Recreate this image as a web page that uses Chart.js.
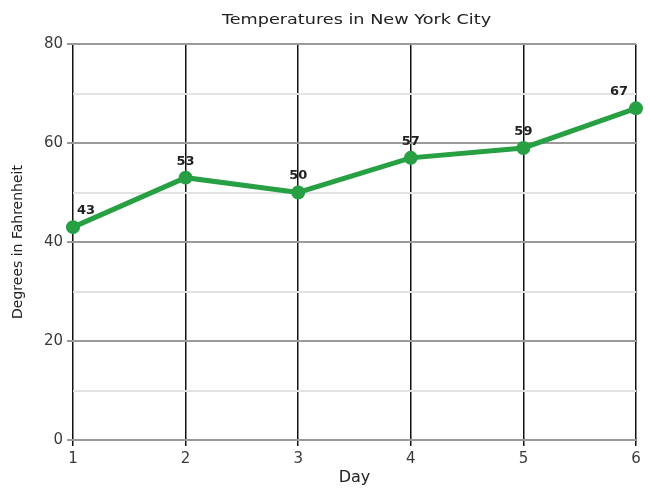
<!DOCTYPE html>
<html>
<head>
<meta charset="utf-8">
<script src="https://cdn.jsdelivr.net/npm/chart.js@4.4.0/dist/chart.umd.min.js"></script>
<style>
  html, body { margin: 0; padding: 0; background: #fff; }
  #wrap { width: 650px; height: 491px; }
</style>
</head>
<body>
<div id="wrap"><canvas id="temp-chart"></canvas></div>
<script>
    // Chart data
    var days = [1, 2, 3, 4, 5, 6];
    var temps = [43, 53, 50, 57, 59, 67];
    var yTicks = [0, 20, 40, 60, 80];

    var points = days.map(function (d, i) { return {x: d, y: temps[i]}; });
    var font = "'DejaVu Sans', 'Liberation Sans', sans-serif";

    // title over the plot area + value labels
    var extras = {
        id: 'extras',
        afterDatasetsDraw: function (chart) {
            var c = chart.ctx, area = chart.chartArea;
            c.save();
            c.fillStyle = '#222';
            c.font = '14px ' + font;
            c.textAlign = 'center';
            c.textBaseline = 'middle';
            // the original title is drawn a bit wide
            var cx = (area.left + area.right) / 2 + 2;
            c.translate(cx, 20);
            c.scale(1.26, 1);
            c.fillText('Temperatures in New York City', 0, 0);
            c.restore();

            c.save();
            c.fillStyle = '#222';
            c.font = 'bold 13px ' + font;
            c.textBaseline = 'bottom';
            chart.getDatasetMeta(0).data.forEach(function (pt, i) {
                var txt = String(temps[i]);
                var x = pt.x;
                if (i === 0) { c.textAlign = 'left'; x = pt.x + 4; }
                else if (i === temps.length - 1) { c.textAlign = 'right'; x = pt.x - 8; }
                else { c.textAlign = 'center'; }
                c.fillText(txt, x, pt.y - 10);
            });
            c.restore();
        }
    };

    var ctx = document.getElementById('temp-chart').getContext('2d');
    var myChart = new Chart(ctx, {
        type: 'line',
        data: {
            datasets: [{
                data: points,
                borderColor: '#27a043',
                backgroundColor: '#27a043',
                borderWidth: 5,
                pointRadius: 7,
                pointHoverRadius: 7,
                pointBorderWidth: 0,
                tension: 0,
                fill: false,
                clip: false
            }]
        },
        options: {
            responsive: true,
            maintainAspectRatio: false,
            animation: false,
            layout: {padding: {top: 44, right: 14, left: 0, bottom: 0}},
            plugins: {
                legend: {display: false},
                tooltip: {enabled: false},
                title: {display: false}
            },
            scales: {
                x: {
                    type: 'linear',
                    min: 1,
                    max: 6,
                    ticks: {
                        stepSize: 1,
                        color: '#3a3a3a',
                        font: {family: font, size: 15},
                        padding: 4
                    },
                    grid: {color: '#111', lineWidth: 1.5, tickLength: 6, tickColor: '#111'},
                    border: {display: false},
                    title: {display: true, text: 'Day', color: '#222', font: {family: font, size: 16}, padding: {top: 4}},
                    afterFit: function (s) { s.height = 51; }
                },
                y: {
                    min: 0,
                    max: 80,
                    ticks: {
                        stepSize: 10,
                        color: '#3a3a3a',
                        font: {family: font, size: 15},
                        padding: 4,
                        callback: function (v) { return yTicks.indexOf(v) >= 0 ? v : ''; }
                    },
                    grid: {
                        lineWidth: 2,
                        tickLength: 6,
                        color: function (c) { return c.tick && c.tick.value % 20 === 0 ? '#9a9a9a' : '#e2e2e2'; },
                        tickColor: function (c) { return c.tick && c.tick.value % 20 === 0 ? '#9a9a9a' : 'rgba(0,0,0,0)'; }
                    },
                    border: {display: false},
                    title: {display: true, text: 'Degrees in Fahrenheit', color: '#222', font: {family: font, size: 14}, padding: {top: 10, bottom: 2}},
                    afterFit: function (s) { s.width = 73; }
                }
            }
        },
        plugins: [extras]
    });
</script>
</body>
</html>
